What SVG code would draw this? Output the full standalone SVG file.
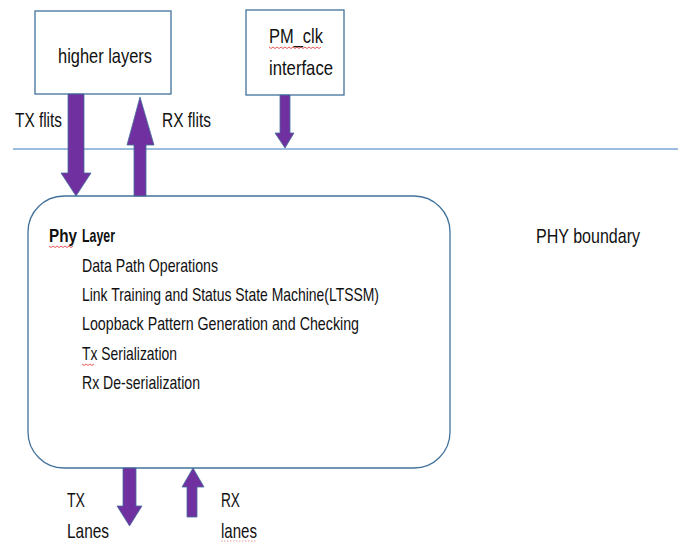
<svg xmlns="http://www.w3.org/2000/svg" width="678" height="542" viewBox="0 0 678 542">
<defs>
<style>
.box{fill:#fff;stroke:#41719C;stroke-width:1.3}
.arr{fill:#7030A0;stroke:#41719C;stroke-width:0.8}
.t{font-family:"Liberation Sans",Arial,sans-serif;fill:#111}
.big{font-size:21px}
.body{font-size:18.5px}
.sq{fill:none;stroke:#E03030;stroke-width:0.8}
</style>
</defs>
<rect width="678" height="542" fill="#fff"/>
<line x1="13" y1="149" x2="678" y2="149" stroke="#7DA7D4" stroke-width="1.5"/>
<g id="higher-layers">
<rect class="box" x="35" y="11" width="136" height="83"/>
<text class="t big" x="58" y="63" textLength="94" lengthAdjust="spacingAndGlyphs">higher layers</text>
</g>
<g id="pm-clk">
<rect class="box" x="246" y="10" width="98" height="85"/>
<text class="t big" x="269" y="43" textLength="54" lengthAdjust="spacingAndGlyphs">PM_clk</text>
<path class="sq" d="M269 47 l2 1.5 l2 -1.5 l2 1.5 l2 -1.5 l2 1.5 l2 -1.5 l2 1.5 l2 -1.5 l2 1.5 l2 -1.5 l2 1.5 l2 -1.5 l2 1.5 l2 -1.5 l2 1.5 l2 -1.5 l2 1.5 l2 -1.5 l2 1.5 l2 -1.5 l2 1.5 l2 -1.5 l2 1.5 l2 -1.5 l2 1.5 l2 -1.5"/>
<text class="t big" x="269" y="75" textLength="64" lengthAdjust="spacingAndGlyphs">interface</text>
</g>
<g id="phy-layer">
<rect class="box" x="28" y="196" width="422" height="272" rx="36" ry="36" stroke="#6A8FB8"/>
<text class="t body" x="49" y="242" font-weight="bold"><tspan textLength="28" lengthAdjust="spacingAndGlyphs">Phy</tspan><tspan x="82" textLength="33" lengthAdjust="spacingAndGlyphs">Layer</tspan></text>
<path class="sq" d="M49 246 l2 1.5 l2 -1.5 l2 1.5 l2 -1.5 l2 1.5 l2 -1.5 l2 1.5 l2 -1.5 l2 1.5 l2 -1.5 l2 1.5 l2 -1.5"/>
<text class="t body" x="82" y="272" textLength="136" lengthAdjust="spacingAndGlyphs">Data Path Operations</text>
<text class="t body" x="82" y="301" textLength="297" lengthAdjust="spacingAndGlyphs">Link Training and Status State Machine(LTSSM)</text>
<text class="t body" x="82" y="330" textLength="277" lengthAdjust="spacingAndGlyphs">Loopback Pattern Generation and Checking</text>
<text class="t body" x="82" y="360" textLength="95" lengthAdjust="spacingAndGlyphs">Tx Serialization</text>
<path class="sq" d="M82 364 l2 1.5 l2 -1.5 l2 1.5 l2 -1.5 l2 1.5 l2 -1.5"/>
<text class="t body" x="82" y="389" textLength="118" lengthAdjust="spacingAndGlyphs">Rx De-serialization</text>
</g>
<g id="connectors">
<polygon class="arr" points="68,94 84,94 84,173 91,173 76,196 61,173 68,173"/>
<polygon class="arr" points="134,196 146,196 146,145 154,145 140,97 127,145 134,145"/>
<polygon class="arr" points="280,95 290,95 290,133 294,133 285,148 275,133 280,133"/>
<polygon class="arr" points="123,468 136,468 136,506 142,506 129.5,526 117,506 123,506"/>
<polygon class="arr" points="187,517 197,517 197,487 204,487 193,468 182,487 187,487"/>
</g>
<g id="labels">
<text class="t big" x="15" y="127" textLength="47" lengthAdjust="spacingAndGlyphs">TX flits</text>
<text class="t big" x="162" y="127" textLength="49" lengthAdjust="spacingAndGlyphs">RX flits</text>
<text class="t big" x="536" y="243" textLength="104" lengthAdjust="spacingAndGlyphs">PHY boundary</text>
<text class="t big" x="67" y="507" textLength="18" lengthAdjust="spacingAndGlyphs">TX</text>
<text class="t big" x="67" y="538" textLength="42" lengthAdjust="spacingAndGlyphs">Lanes</text>
<text class="t big" x="221" y="507" textLength="19" lengthAdjust="spacingAndGlyphs">RX</text>
<text class="t big" x="221" y="538" textLength="36" lengthAdjust="spacingAndGlyphs">lanes</text>
<line x1="221" y1="541" x2="257" y2="541" stroke="#E08080" stroke-width="0.8" stroke-dasharray="1.5,1.5"/>
</g>
</svg>
